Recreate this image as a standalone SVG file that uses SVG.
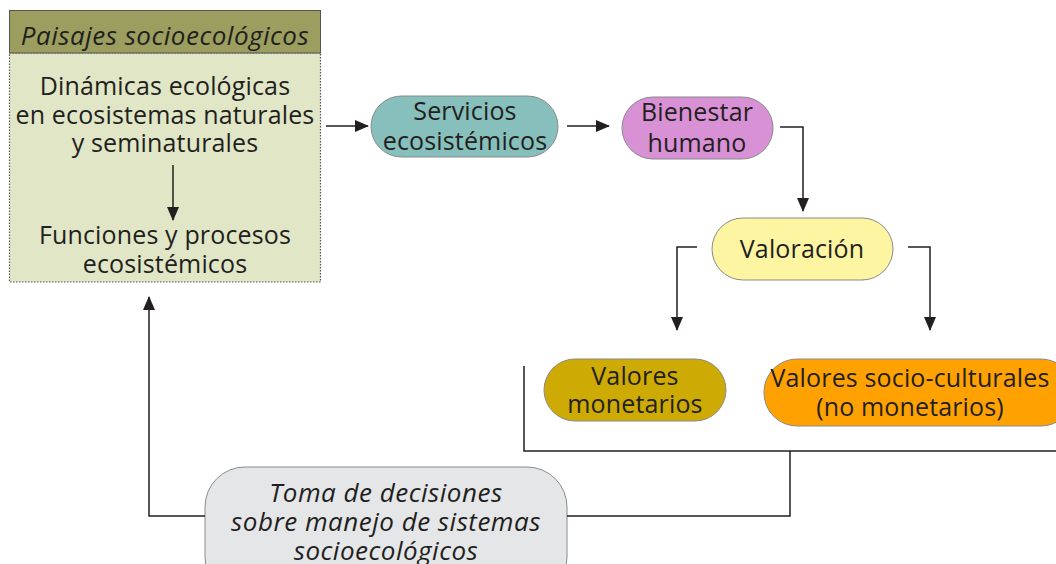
<svg xmlns="http://www.w3.org/2000/svg" width="1056" height="564" viewBox="0 0 1056 564">
<defs>
<style>
text{font-family:"Open Sans","Liberation Sans",sans-serif;font-size:25px;font-weight:400;letter-spacing:0.15px;fill:#231f20;text-anchor:middle}
.it{font-style:italic;font-size:26px;letter-spacing:0.5px}
.pill{stroke:#8a8a8a;stroke-width:1}
.ln{fill:none;stroke:#231f20;stroke-width:1.5}
</style>
<marker id="ah2" markerWidth="14" markerHeight="12" refX="13" refY="6" orient="auto" markerUnits="userSpaceOnUse" viewBox="0 0 14 12">
<path d="M0,0 L14,6 L0,12 z" fill="#231f20"/>
</marker>
</defs>
<rect width="1056" height="564" fill="#ffffff"/>
<g id="paisajes">
<rect x="9.5" y="53" width="311" height="229" fill="#e0e6c6" stroke="#555" stroke-width="1.2" stroke-dasharray="1.5,1.5"/>
<rect x="9.5" y="10.5" width="311" height="42.5" fill="#9b9e5e" stroke="#555" stroke-width="1"/>
<text class="it" x="165" y="45">Paisajes socioecológicos</text>
<text x="165" y="95">Dinámicas ecológicas</text>
<text x="165" y="124">en ecosistemas naturales</text>
<text x="165" y="152">y seminaturales</text>
<text x="165" y="244">Funciones y procesos</text>
<text x="165" y="273">ecosistémicos</text>
</g>
<g id="servicios">
<rect class="pill" x="371" y="96" width="187" height="61" rx="30.5" fill="#86bfbb"/>
<text x="465" y="120">Servicios</text>
<text x="465" y="150">ecosistémicos</text>
</g>
<g id="bienestar">
<rect class="pill" x="622" y="97" width="151" height="62" rx="31" fill="#d891d5"/>
<text x="697" y="121">Bienestar</text>
<text x="697" y="152">humano</text>
</g>
<g id="valoracion">
<rect class="pill" x="712" y="218" width="181" height="62" rx="31" fill="#fdf5a2"/>
<text x="802" y="258">Valoración</text>
</g>
<g id="monetarios">
<rect class="pill" x="544" y="359" width="182" height="62" rx="31" fill="#cdaa04"/>
<text x="635" y="385">Valores</text>
<text x="635" y="413">monetarios</text>
</g>
<g id="socioculturales">
<rect class="pill" x="764" y="359" width="310" height="67" rx="33" fill="#ffa201"/>
<text x="910" y="387">Valores socio-culturales</text>
<text x="910" y="416">(no monetarios)</text>
</g>
<g id="toma">
<rect class="pill" x="205" y="467" width="362" height="130" rx="40" fill="#e5e6e8"/>
<text class="it" x="386" y="502">Toma de decisiones</text>
<text class="it" x="386" y="531">sobre manejo de sistemas</text>
<text class="it" x="386" y="560">socioecológicos</text>
</g>
<g id="connectors">
<line class="ln" x1="173" y1="165" x2="173" y2="220" marker-end="url(#ah2)"/>
<line class="ln" x1="326" y1="126" x2="368" y2="126" marker-end="url(#ah2)"/>
<line class="ln" x1="567" y1="126" x2="609" y2="126" marker-end="url(#ah2)"/>
<polyline class="ln" points="780,127 803,127 803,211" marker-end="url(#ah2)"/>
<polyline class="ln" points="697,247 677,247 677,330" marker-end="url(#ah2)"/>
<polyline class="ln" points="908,247 930,247 930,330" marker-end="url(#ah2)"/>
<polyline class="ln" points="524,366 524,451 1056,451"/>
<polyline class="ln" points="790,451 790,516 567,516"/>
<polyline class="ln" points="205,516 149,516 149,297" marker-end="url(#ah2)"/>
</g>
</svg>
